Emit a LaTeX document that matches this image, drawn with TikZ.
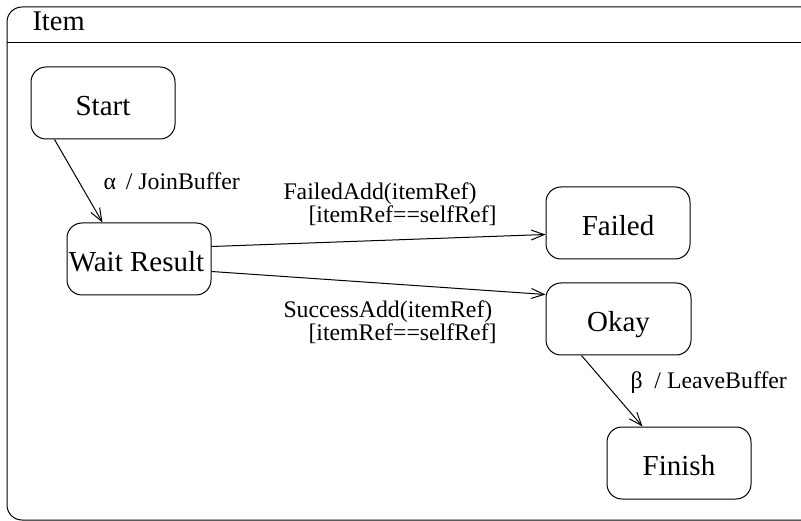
\documentclass[tikz,border=0pt]{standalone}
\usepackage{fontspec}
\setmainfont{Liberation Serif}
\usetikzlibrary{arrows.meta}
\tikzset{
  state/.style={draw, rounded corners=15pt, minimum width=144pt, minimum height=72pt,
    inner sep=0pt, text height=25pt, text depth=0pt, font=\fontsize{29}{32}\selectfont},
  trans/.style={draw, -{Straight Barb[length=13pt,width=10pt]}},
  lbl/.style={anchor=west, inner sep=0pt, align=left, font=\fontsize{23.8}{23}\selectfont},
}
\begin{document}
\begin{tikzpicture}[x=1pt, y=-1pt, line width=1pt]
\useasboundingbox (0,0) rectangle (801,521);
% enclosing composite state, open on the right
\begin{scope}
\clip (0,0) rectangle (801,521);
\draw[rounded corners=15pt] (7,7) rectangle (830,520);
\draw (7,43) -- (830,43);
\end{scope}
\node[anchor=base west, inner sep=0pt, font=\fontsize{28.5}{32}\selectfont] (title) at (32,31) {Item};

% states
\node[state] (start)  at (103,103) {Start};
\node[state] (wait)   at (139,259) {\hspace*{-5pt}Wait Result};
\node[state] (failed) at (618,223) {Failed};
\node[state, minimum width=145pt] (okay) at (618.5,319) {Okay};
\node[state] (finish) at (679,463) {Finish};

% transitions
\draw[trans] ([xshift=24pt]start.south west) -- ([xshift=36pt]wait.north west);
\draw[trans] ([yshift=-24pt]wait.north east) -- ([yshift=-48pt]failed.north west);
\draw[trans] ([yshift=-49pt]wait.north east) -- ([yshift=-12pt]okay.north west);
\draw[trans] ([xshift=36pt]okay.south west) -- ([xshift=36pt]finish.north west);

% transition labels
\node[lbl] (l1) at (103,181) {α\, / JoinBuffer};
\node[lbl] (l2) at (283,204) {FailedAdd(itemRef)\\\hspace*{25pt}[itemRef==selfRef]};
\node[lbl] (l3) at (283,322) {SuccessAdd(itemRef)\\\hspace*{25pt}[itemRef==selfRef]};
\node[lbl] (l4) at (630,383) {β\ \ / LeaveBuffer};
\end{tikzpicture}
\end{document}
